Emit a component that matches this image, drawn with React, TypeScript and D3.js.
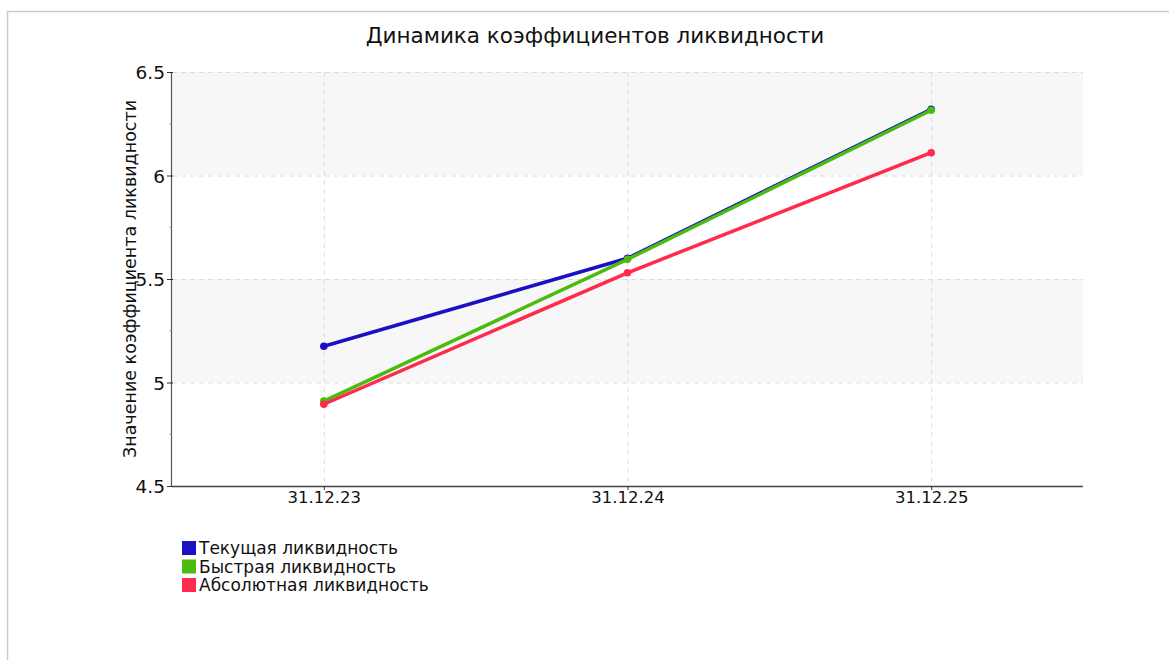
import React from "react";
import * as d3 from "d3";

const categories = ["31.12.23", "31.12.24", "31.12.25"];
const currentLiquidity = [5.175, 5.6, 6.32];
const quickLiquidity = [4.91, 5.595, 6.315];
const absoluteLiquidity = [4.895, 5.53, 6.11];
const seriesNames = ["Текущая ликвидность", "Быстрая ликвидность", "Абсолютная ликвидность"];
const seriesColors = ["#1a10c4", "#4cbb10", "#ff2a4e"];
const yTicks = [4.5, 5, 5.5, 6, 6.5];
const yTickLabels = ["4.5", "5", "5.5", "6", "6.5"];
const minorTicks = [4.75, 5.25, 5.75, 6.25];
const title = "Динамика коэффициентов ликвидности";
const yAxisTitle = "Значение коэффициента ликвидности";

const W = 1169;
const H = 660;
const left = 172;
const right = 1083;
const top = 72;
const bottom = 486;
const FONT = "'DejaVu Sans', Verdana, sans-serif";

export default function App() {
  const x = d3.scalePoint<string>().domain(categories).range([left, right]).padding(0.5);
  const y = d3.scaleLinear().domain([4.5, 6.5]).range([bottom, top]);
  const line = d3
    .line<[string, number]>()
    .x((d) => x(d[0]) as number)
    .y((d) => y(d[1]));
  const series = [currentLiquidity, quickLiquidity, absoluteLiquidity];

  const bands: [number, number][] = [];
  for (let i = 0; i < yTicks.length - 1; i++) {
    if (i % 2 === 1) bands.push([yTicks[i], yTicks[i + 1]]);
  }

  return (
    <svg
      width={W}
      height={H}
      style={{ position: "absolute", left: 0, top: 0, background: "#fff" }}
      fontFamily={FONT}
    >
      <rect x={7.5} y={11.5} width={1300} height={800} fill="#fff" stroke="#cccccc" strokeWidth={1.5} />
      <text x={595} y={43} textAnchor="middle" fontSize={21.5} fill="#111">
        {title}
      </text>
      {bands.map(([a, b], i) => (
        <rect key={i} x={left} y={y(b)} width={right - left} height={y(a) - y(b)} fill="#f7f7f7" />
      ))}
      {yTicks.slice(1).map((t) => (
        <line key={t} x1={left} x2={right} y1={y(t) + 0.5} y2={y(t) + 0.5} stroke="#dddddd" strokeDasharray="5,4" />
      ))}
      {categories.map((c) => (
        <line key={c} x1={(x(c) as number) + 0.5} x2={(x(c) as number) + 0.5} y1={top} y2={bottom} stroke="#dddddd" strokeDasharray="5,4" />
      ))}
      {/* axes */}
      <line x1={left - 0.5} x2={left - 0.5} y1={top} y2={bottom} stroke="#555" strokeWidth={1.2} />
      <line x1={left} x2={right} y1={bottom + 0.5} y2={bottom + 0.5} stroke="#444" strokeWidth={1.5} />
      {yTicks.map((t, i) => (
        <g key={t}>
          <line x1={left - 5} x2={left + 1} y1={y(t) + 0.5} y2={y(t) + 0.5} stroke="#333" />
          <text x={left - 7} y={y(t) + 7} textAnchor="end" fontSize={18.5} fill="#111">
            {yTickLabels[i]}
          </text>
        </g>
      ))}
      {minorTicks.map((t) => (
        <line key={t} x1={left - 2.5} x2={left} y1={y(t)} y2={y(t)} stroke="#ff5555" />
      ))}
      {categories.map((c) => (
        <g key={c}>
          <line x1={(x(c) as number) + 0.5} x2={(x(c) as number) + 0.5} y1={bottom} y2={bottom + 4} stroke="#333" />
          <text x={(x(c) as number) + 0.5} y={bottom + 17} textAnchor="middle" fontSize={16.5} fill="#111">
            {c}
          </text>
        </g>
      ))}
      <text
        transform={`translate(136, ${(top + bottom) / 2 + 0}) rotate(-90)`}
        textAnchor="middle"
        fontSize={17.5}
        fill="#111"
      >
        {yAxisTitle}
      </text>
      {series.map((vals, si) => {
        const pts = categories.map((c, i) => [c, vals[i]] as [string, number]);
        return (
          <g key={si}>
            <path d={line(pts) || ""} fill="none" stroke={seriesColors[si]} strokeWidth={3.5} strokeLinejoin="round" />
            {pts.map((p, i) => (
              <circle key={i} cx={x(p[0]) as number} cy={y(p[1])} r={3.8} fill={seriesColors[si]} />
            ))}
          </g>
        );
      })}
      {seriesNames.map((n, i) => (
        <g key={n}>
          <rect x={182} y={541 + i * 18.5} width={14} height={14} fill={seriesColors[i]} />
          <text x={199} y={554 + i * 18.5} fontSize={17} fill="#111">
            {n}
          </text>
        </g>
      ))}
    </svg>
  );
}
